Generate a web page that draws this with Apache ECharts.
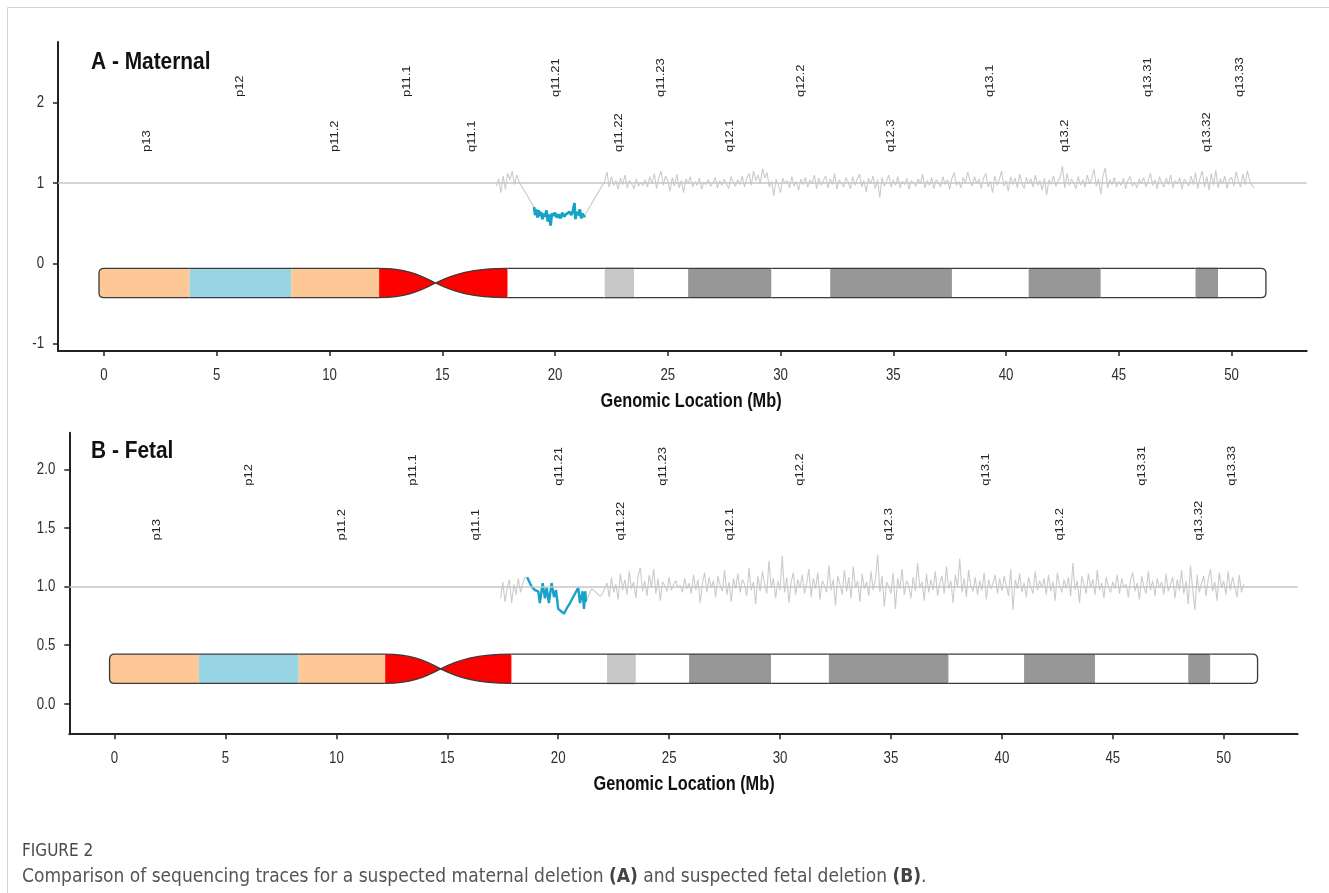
<!DOCTYPE html>
<html>
<head>
<meta charset="utf-8">
<script src="https://cdn.jsdelivr.net/npm/echarts@6/dist/echarts.min.js"></script>
<style>
html,body{margin:0;padding:0;background:#fff;}
#chart{width:1329px;height:893px;}
</style>
</head>
<body>
<div id="chart"></div>
<script>
// ---------- DATA ----------
const xTicks = [0, 5, 10, 15, 20, 25, 30, 35, 40, 45, 50];
const yTicksA = [-1, 0, 1, 2];
const yTicksB = [0, 0.5, 1, 1.5, 2];

const bandNames  = ['p13','p12','p11.2','p11.1','q11.1','q11.21','q11.22','q11.23','q12.1','q12.2','q12.3','q13.1','q13.2','q13.31','q13.32','q13.33'];
const bandStarts = [0, 3.8, 8.3, 12.2, 14.7, 17.9, 22.2, 23.5, 25.9, 29.6, 32.2, 37.6, 41.0, 44.2, 48.4, 49.4];
const bandEnds   = [3.8, 8.3, 12.2, 14.7, 17.9, 22.2, 23.5, 25.9, 29.6, 32.2, 37.6, 41.0, 44.2, 48.4, 49.4, 51.3];
const bandStains = ['gvar','stalk','gvar','acen','acen','gneg','gpos25','gneg','gpos50','gneg','gpos50','gneg','gpos50','gneg','gpos50','gneg'];

// Panel A (maternal) trace
const preStartA = 17.4;
const preA = [0.96,1.05,0.88,1.09,0.92,1.12,1.04,1.15,0.98,1.10,1.02,0.97];
const blueA = [[19.07,0.70],[19.12,0.60],[19.17,0.67],[19.22,0.57],[19.27,0.66],[19.32,0.59],[19.38,0.64],[19.44,0.55],[19.50,0.62],[19.56,0.58],[19.62,0.66],[19.68,0.52],[19.74,0.61],[19.80,0.47],[19.86,0.62],[19.93,0.59],[20.00,0.63],[20.08,0.57],[20.16,0.61],[20.24,0.56],[20.32,0.63],[20.40,0.58],[20.48,0.61],[20.56,0.59],[20.64,0.64],[20.72,0.60],[20.80,0.66],[20.86,0.75],[20.90,0.55],[20.96,0.64],[21.02,0.60],[21.10,0.67],[21.16,0.56],[21.22,0.62],[21.28,0.58],[21.33,0.60]];
const postStartA = 22.2;
const postA = [
1.02,1.14,0.95,1.08,0.97,1.03,0.92,1.06,
0.98,1.10,0.94,1.03,0.99,0.93,1.05,0.96,1.01,0.97,
1.04,0.95,1.08,0.99,1.12,0.93,1.06,1.15,0.97,1.09,
1.02,0.90,1.07,0.96,1.11,0.94,1.03,0.88,1.05,0.99,
1.08,0.95,1.02,0.97,1.06,0.92,1.01,0.98,1.04,0.96,
1.00,1.07,0.94,1.03,0.97,1.05,0.99,0.93,1.08,1.01,
0.96,1.04,0.98,1.09,0.95,1.06,1.12,0.97,1.15,1.03,
1.10,0.99,1.18,1.06,1.13,0.95,1.02,0.84,1.05,0.97,
0.88,1.06,0.99,1.03,0.94,1.08,0.96,1.02,0.91,1.05,
0.98,1.07,0.95,1.04,0.99,1.10,0.93,1.06,0.97,1.03,
1.09,0.94,1.05,0.98,1.12,0.92,1.04,1.00,0.95,1.07,
1.01,0.93,1.08,0.97,1.05,1.11,0.95,1.03,0.89,1.06,
0.99,1.09,0.93,1.04,0.82,1.07,0.96,1.02,1.10,0.95,
1.04,0.97,1.08,0.94,1.02,0.98,1.06,0.92,1.03,1.00,
0.96,1.05,0.99,1.11,0.94,1.03,0.97,1.07,0.93,1.04,
1.01,0.95,1.08,0.98,1.04,0.92,1.06,1.13,0.97,1.02,
0.94,1.07,1.00,1.14,1.03,0.96,1.08,0.99,1.05,0.93,
1.06,1.12,0.95,1.02,0.88,1.09,0.97,1.04,1.15,0.96,
1.03,0.90,1.08,0.98,1.06,0.94,1.11,1.00,0.93,1.07,
0.99,1.05,0.95,1.10,0.97,1.03,0.91,1.06,0.85,1.04,
0.98,1.09,0.96,1.02,1.07,1.21,0.94,1.12,0.97,1.05,
1.00,0.93,1.08,0.97,1.04,0.95,1.10,0.99,1.06,1.17,
0.96,1.05,0.86,1.09,1.19,0.94,1.04,0.98,1.07,0.95,
1.02,0.97,1.06,0.93,1.03,1.08,0.96,1.01,0.94,1.05,
0.99,1.07,0.95,1.03,1.12,0.97,1.04,0.93,1.08,1.00,
0.95,1.06,0.98,1.10,0.94,1.03,0.99,1.07,0.92,1.05,
1.01,0.96,1.09,0.98,1.13,0.93,1.06,1.15,0.95,1.08,
0.91,1.12,0.97,1.16,0.94,1.05,0.99,1.09,0.93,1.04,
1.07,0.96,1.14,1.02,0.95,1.11,0.98,1.15,1.03,0.97,
0.94];

// Panel B (fetal) trace
const preStartB = 17.4;
const preB = [0.90,1.04,0.87,0.99,1.06,0.86,1.02,0.93,1.07,0.95,1.03,1.08];
const blueB = [[18.60,1.08],[18.70,1.04],[18.80,1.00],[18.95,0.97],[19.10,0.96],[19.17,0.86],[19.24,0.95],[19.30,1.03],[19.40,0.90],[19.48,0.99],[19.58,0.86],[19.70,1.03],[19.81,0.91],[19.90,0.97],[20.00,0.81],[20.13,0.79],[20.26,0.77],[20.40,0.82],[20.53,0.86],[20.70,0.92],[20.90,0.99],[20.98,0.86],[21.10,0.96],[21.16,0.81],[21.22,0.96],[21.25,0.87]];
const postStartB = 21.5;
const postB = [
0.98,0.97,0.95,0.93,0.92,
0.94,0.99,1.03,0.91,1.08,0.95,1.02,0.89,1.11,0.97,
1.06,0.93,1.13,0.98,1.04,0.90,1.09,1.16,0.96,1.05,
0.92,1.10,0.99,1.15,0.94,1.07,0.88,1.04,1.01,0.96,
1.08,0.97,1.02,1.05,0.99,1.01,0.95,1.07,0.98,1.03,
0.94,1.10,0.97,1.06,0.86,1.03,1.12,0.95,1.08,0.99,
1.05,0.91,1.09,1.01,0.96,1.14,0.93,1.04,0.87,1.07,
0.98,1.11,0.95,1.06,1.02,0.92,1.16,0.97,1.04,0.85,
1.09,0.96,1.13,1.03,0.94,1.22,0.99,1.07,0.90,1.05,
0.97,1.26,0.95,1.08,0.86,1.04,1.12,0.93,1.06,0.99,
1.10,0.94,1.03,1.15,0.91,1.07,0.98,1.12,0.89,1.05,
1.01,0.95,1.18,0.97,1.06,0.84,1.09,1.02,0.93,1.14,
0.96,1.08,0.90,1.17,0.99,1.05,0.87,1.11,0.98,1.04,
0.92,1.13,0.97,1.06,1.27,0.95,1.09,0.83,1.04,1.00,
0.94,1.12,0.81,1.07,0.98,1.15,0.93,1.05,1.01,0.90,
1.08,0.96,1.20,0.99,1.04,0.88,1.11,0.95,1.06,0.97,
1.13,0.92,1.03,1.09,0.94,1.17,0.98,1.05,0.86,1.10,
0.99,1.24,0.95,1.07,0.91,1.14,1.00,0.96,1.08,0.93,
1.05,0.97,1.12,0.89,1.06,0.98,1.03,1.10,0.94,1.07,
0.96,1.09,1.01,0.92,1.15,0.80,1.06,0.98,1.11,0.95,
1.03,0.91,1.08,1.00,0.94,1.13,0.97,1.05,0.99,1.07,
0.93,1.10,0.96,1.04,0.88,1.12,1.01,0.95,1.06,0.98,
1.08,0.92,1.20,0.97,1.05,0.86,1.09,1.02,0.94,1.11,
0.99,1.06,0.93,1.14,0.97,1.03,0.90,1.08,1.00,0.95,
1.04,0.98,1.10,0.94,1.07,0.99,1.02,0.91,1.06,1.12,
0.96,1.03,0.89,1.09,1.00,0.94,1.13,0.97,1.05,0.92,
1.07,0.99,1.04,0.93,1.11,0.96,1.02,1.08,0.90,1.06,
0.97,1.14,0.94,1.05,0.85,1.18,0.98,0.80,1.10,0.95,
1.03,1.09,0.92,1.06,1.15,0.96,1.04,0.88,1.12,0.99,
1.05,0.93,1.13,0.97,1.08,1.00,0.91,1.10,0.95,1.02];

const binStep = 0.1;

// ---------- STYLE / LAYOUT ----------
const SANS = '"Liberation Sans", Arial, sans-serif';
const COND = '"DejaVu Sans Condensed", "DejaVu Sans", sans-serif';
const stainColors = {gvar:'#FDC896', stalk:'#97D4E4', acen:'#FF0000', gneg:'#FFFFFF', gpos25:'#C8C8C8', gpos50:'#979797'};
const GRAY = '#cbcbcb';
const BLUE = '#17A3C7';

function gridPairs(start, vals) {
  return vals.map((v, i) => [+(start + i * binStep).toFixed(2), v]);
}
const grayA = gridPairs(preStartA, preA).concat(blueA, gridPairs(postStartA, postA));
const grayB = gridPairs(preStartB, preB).concat(blueB, gridPairs(postStartB, postB));

const X_MIN = -2.04, X_MAX = 53.33;
const Y_A = [-1.092, 2.756];
const Y_B = [-0.2585, 2.312];

function xAxisCfg(gi) {
  return {
    type: 'value', gridIndex: gi, min: X_MIN, max: X_MAX,
    axisLine: {show: true, onZero: false, lineStyle: {color: '#222', width: 2}},
    axisTick: {show: true, customValues: xTicks, length: 5, lineStyle: {color: '#222', width: 1.5}},
    axisLabel: {show: false},
    splitLine: {show: false}
  };
}
function yAxisCfg(gi, lim, ticks) {
  return {
    type: 'value', gridIndex: gi, min: lim[0], max: lim[1],
    axisLine: {show: true, onZero: false, lineStyle: {color: '#222', width: 2}},
    axisTick: {show: true, customValues: ticks, length: 5, lineStyle: {color: '#222', width: 1.5}},
    axisLabel: {show: false},
    splitLine: {show: false}
  };
}

// Tick labels drawn through the axes' own scales (narrow glyphs like the reference)
function tickLabelSeries(xi, yLim, dec) {
  const items = xTicks.map(v => [v, 0]).concat((dec ? yTicksB : yTicksA).map(v => [v, 1]));
  return {
    type: 'custom', coordinateSystem: 'cartesian2d', xAxisIndex: xi, yAxisIndex: xi, silent: true,
    animation: false, clip: false, z: 7,
    data: items,
    renderItem: function (params, api) {
      const v = api.value(0), isY = api.value(1) === 1;
      let pt, txt, align, vx, vy;
      if (!isY) {
        pt = api.coord([v, yLim[0]]);
        txt = String(v); align = 'center'; vx = pt[0]; vy = pt[1] + 24.5;
      } else {
        pt = api.coord([X_MIN, v]);
        txt = dec ? v.toFixed(1) : String(v); align = 'right'; vx = pt[0] - 14; vy = pt[1];
      }
      return {
        type: 'text', x: vx, y: vy, scaleX: 0.78,
        style: {text: txt, align: align, verticalAlign: 'middle', fontFamily: SANS, fontSize: 17, fill: '#2e2e2e'}
      };
    }
  };
}

function traceSeries(xi, gray, blue, blueWidth) {
  return [
    {
      type: 'line', xAxisIndex: xi, yAxisIndex: xi, data: gray, showSymbol: false, silent: true,
      lineStyle: {color: GRAY, width: 1.1}, z: 2, animation: false,
      markLine: {silent: true, symbol: 'none', label: {show: false}, animation: false,
        lineStyle: {color: '#c6c6c6', width: 1.6, type: 'solid'}, data: [{yAxis: 1}]}
    },
    {
      type: 'line', xAxisIndex: xi, yAxisIndex: xi, data: blue, showSymbol: false, silent: true,
      lineStyle: {color: BLUE, width: blueWidth}, z: 3, animation: false
    }
  ];
}

function ideogramSeries(xi, yTop, yBot) {
  return {
    type: 'custom', coordinateSystem: 'cartesian2d', xAxisIndex: xi, yAxisIndex: xi, silent: true, z: 5,
    animation: false,
    data: bandStarts.map((s, i) => [s, bandEnds[i], i]),
    renderItem: function (params, api) {
      const i = api.value(2);
      const p0 = api.coord([api.value(0), yTop]);
      const p1 = api.coord([api.value(1), yBot]);
      const x0 = p0[0], x1 = p1[0], top = p0[1], bot = p1[1];
      const mid = (top + bot) / 2, h = bot - top, w = x1 - x0;
      const stain = bandStains[i];
      const fill = stainColors[stain];
      const strokeStyle = {fill: null, stroke: '#3a3a3a', lineWidth: 1.3};
      const children = [];
      if (stain === 'acen') {
        let d;
        if (bandNames[i][0] === 'p') {
          d = `M ${x0} ${top} C ${x0 + 0.45 * w} ${top} ${x1 - 0.3 * w} ${top + 0.2 * h} ${x1} ${mid} ` +
              `C ${x1 - 0.3 * w} ${bot - 0.2 * h} ${x0 + 0.45 * w} ${bot} ${x0} ${bot}`;
        } else {
          d = `M ${x1} ${top} C ${x1 - 0.5 * w} ${top} ${x0 + 0.25 * w} ${top + 0.2 * h} ${x0} ${mid} ` +
              `C ${x0 + 0.25 * w} ${bot - 0.2 * h} ${x1 - 0.5 * w} ${bot} ${x1} ${bot}`;
        }
        children.push({type: 'path', shape: {pathData: d + ' Z'}, style: {fill: fill, stroke: null}});
        children.push({type: 'path', shape: {pathData: d}, style: strokeStyle});
      } else if (i === 0) {
        const xl = x0 - 5, r = 5;
        const fillD = `M ${x1} ${top} L ${xl + r} ${top} Q ${xl} ${top} ${xl} ${top + r} L ${xl} ${bot - r} Q ${xl} ${bot} ${xl + r} ${bot} L ${x1} ${bot}`;
        children.push({type: 'path', shape: {pathData: fillD + ' Z'}, style: {fill: fill, stroke: null}});
        children.push({type: 'path', shape: {pathData: fillD}, style: strokeStyle});
      } else if (i === bandStarts.length - 1) {
        const xr = x1 + 5, r = 5;
        const fillD = `M ${x0} ${top} L ${xr - r} ${top} Q ${xr} ${top} ${xr} ${top + r} L ${xr} ${bot - r} Q ${xr} ${bot} ${xr - r} ${bot} L ${x0} ${bot}`;
        children.push({type: 'path', shape: {pathData: fillD + ' Z'}, style: {fill: fill, stroke: null}});
        children.push({type: 'path', shape: {pathData: fillD}, style: strokeStyle});
      } else {
        children.push({type: 'rect', shape: {x: x0, y: top, width: w, height: h}, style: {fill: fill, stroke: null}});
        children.push({type: 'line', shape: {x1: x0, y1: top, x2: x1, y2: top}, style: strokeStyle});
        children.push({type: 'line', shape: {x1: x0, y1: bot, x2: x1, y2: bot}, style: strokeStyle});
      }
      return {type: 'group', children: children};
    }
  };
}

function bandLabelSeries(xi, yUpper, yLower) {
  return {
    type: 'custom', coordinateSystem: 'cartesian2d', xAxisIndex: xi, yAxisIndex: xi, silent: true, z: 6,
    animation: false,
    data: bandStarts.map((s, i) => [(s + bandEnds[i]) / 2, i]),
    renderItem: function (params, api) {
      const i = api.value(1);
      const yv = (i % 2 === 1) ? yUpper : yLower;
      const pt = api.coord([api.value(0), yv]);
      return {
        type: 'text', x: pt[0], y: pt[1], rotation: Math.PI / 2, scaleY: 0.85,
        style: {text: bandNames[i], align: 'left', verticalAlign: 'middle',
          fontFamily: SANS, fontSize: 13, fill: '#222'}
      };
    }
  };
}

const chart = echarts.init(document.getElementById('chart'), null, {renderer: 'canvas'});
chart.setOption({
  animation: false,
  backgroundColor: '#ffffff',
  grid: [
    {left: 58, top: 42, right: 22.3, bottom: 542},
    {left: 69.3, top: 432.7, right: 31.4, bottom: 158.8}
  ],
  xAxis: [xAxisCfg(0), xAxisCfg(1)],
  yAxis: [yAxisCfg(0, Y_A, yTicksA), yAxisCfg(1, Y_B, yTicksB)],
  series: [].concat(
    traceSeries(0, grayA, blueA, 2.8),
    traceSeries(1, grayB, blueB, 2.4),
    [ideogramSeries(0, -0.062, -0.428), ideogramSeries(1, 0.424, 0.174),
     bandLabelSeries(0, 2.07, 1.386), bandLabelSeries(1, 1.86, 1.392),
     tickLabelSeries(0, Y_A, false), tickLabelSeries(1, Y_B, true)]
  ),
  graphic: [
    {type: 'rect', shape: {x: 7.5, y: 7.5, width: 1400, height: 1000}, style: {fill: null, stroke: '#d2d2d2', lineWidth: 1}, z: -10, silent: true},
    {type: 'text', x: 91, y: 62, scaleX: 0.87, style: {text: 'A - Maternal', fontFamily: SANS, fontWeight: 'bold', fontSize: 24, fill: '#111', verticalAlign: 'middle'}},
    {type: 'text', x: 91, y: 451, scaleX: 0.87, style: {text: 'B - Fetal', fontFamily: SANS, fontWeight: 'bold', fontSize: 24, fill: '#111', verticalAlign: 'middle'}},
    {type: 'text', x: 691, y: 401, scaleX: 0.815, style: {text: 'Genomic Location (Mb)', fontFamily: SANS, fontWeight: 'bold', fontSize: 20, fill: '#111', align: 'center', verticalAlign: 'middle'}},
    {type: 'text', x: 684, y: 784, scaleX: 0.815, style: {text: 'Genomic Location (Mb)', fontFamily: SANS, fontWeight: 'bold', fontSize: 20, fill: '#111', align: 'center', verticalAlign: 'middle'}},
    {type: 'text', x: 22, y: 852, style: {text: 'FIGURE 2', fontFamily: COND, fontSize: 17, fill: '#4a4a4a', verticalAlign: 'middle'}},
    {type: 'text', x: 22, y: 877, style: {
      text: 'Comparison of sequencing traces for a suspected maternal deletion {b|(A)} and suspected fetal deletion {b|(B)}.',
      fontFamily: COND, fontSize: 19, fill: '#555', verticalAlign: 'middle',
      rich: {b: {fontFamily: COND, fontSize: 19, fontWeight: 'bold', fill: '#444'}}
    }}
  ]
});
</script>
</body>
</html>
